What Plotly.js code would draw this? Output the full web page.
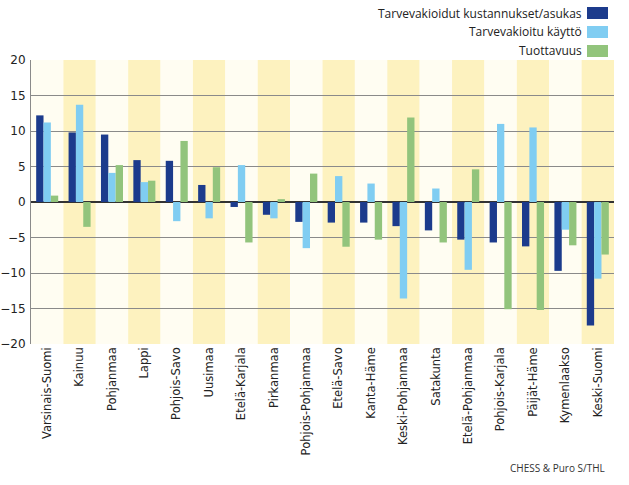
<!DOCTYPE html>
<html>
<head>
<meta charset="utf-8">
<script src="https://cdn.plot.ly/plotly-3.0.1.min.js"></script>
<style>html,body{margin:0;padding:0;background:#fff;}#chart{width:629px;height:485px;}</style>
</head>
<body>
<div id="chart"></div>
<script>
const regions = ["Varsinais-Suomi","Kainuu","Pohjanmaa","Lappi","Pohjois-Savo","Uusimaa","Etelä-Karjala","Pirkanmaa","Pohjois-Pohjanmaa","Etelä-Savo","Kanta-Häme","Keski-Pohjanmaa","Satakunta","Etelä-Pohjanmaa","Pohjois-Karjala","Päijät-Häme","Kymenlaakso","Keski-Suomi"];
const seriesNames = ["Tarvevakioidut kustannukset/asukas","Tarvevakioitu käyttö","Tuottavuus"];
const kustannukset = [12.2, 9.8, 9.5, 5.9, 5.8, 2.4, -0.7, -1.8, -2.8, -2.9, -2.9, -3.4, -4.0, -5.3, -5.7, -6.25, -9.7, -17.4];
const kaytto = [11.2, 13.7, 4.1, 2.8, -2.7, -2.3, 5.2, -2.3, -6.5, 3.65, 2.6, -13.6, 1.9, -9.55, 11.0, 10.5, -3.9, -10.8];
const tuottavuus = [0.9, -3.5, 5.2, 3.0, 8.6, 4.9, -5.7, 0.4, 4.0, -6.3, -5.3, 11.9, -5.7, 4.6, -15.1, -15.2, -6.1, -7.4];
const yTicks = [-20, -15, -10, -5, 0, 5, 10, 15, 20];
const yTickText = ["\u221220","\u221215","\u221210","\u22125","0","5","10","15","20"];

const colors = ["#1c3b8c", "#80cdf2", "#92c47c"];
const values = [kustannukset, kaytto, tuottavuus];

const traces = values.map((v, i) => ({
  type: "bar", x: regions, y: v, name: seriesNames[i],
  marker: {color: colors[i], line: {width: 0}}, showlegend: false,
  hoverinfo: "skip"
}));

// plot area in pixels
const L = 31, R = 614, T = 60, B = 344;
const px = x => (x - L) / (R - L);
const py = y => (B - y) / (B - T);

const shapes = [];
regions.forEach((r, i) => {
  shapes.push({type: "rect", xref: "x", yref: "y", x0: i - 0.5, x1: i + 0.5, y0: -20, y1: 20,
    fillcolor: i % 2 === 1 ? "#fdf2bf" : "#fffdf2", line: {width: 0}, layer: "below"});
});
const annotations = [];
seriesNames.forEach((n, i) => {
  const yc = 13 + 19 * i;
  shapes.push({type: "rect", xref: "paper", yref: "paper", x0: px(587), x1: px(608),
    y0: py(yc + 6), y1: py(yc - 6), fillcolor: colors[i], line: {width: 0}});
  annotations.push({xref: "paper", yref: "paper", x: px(584), y: py(yc), xanchor: "right", yanchor: "middle",
    text: n, showarrow: false, font: {family: "Open Sans", size: 12, color: "#222"}});
});
annotations.push({xref: "paper", yref: "paper", x: px(607), y: py(468), xanchor: "right", yanchor: "middle",
  text: "CHESS & Puro S/THL", showarrow: false, font: {family: "Open Sans", size: 10, color: "#333"}});

const layout = {
  width: 629, height: 485,
  margin: {l: L, r: 629 - R, t: T, b: 485 - B, pad: 0},
  paper_bgcolor: "#ffffff", plot_bgcolor: "#ffffff",
  barmode: "group", bargap: 0.32, bargroupgap: 0,
  showlegend: false,
  font: {family: "DejaVu Sans", color: "#222"},
  xaxis: {type: "category", tickangle: -90, ticks: "", showgrid: false, zeroline: false,
    showline: false, tickfont: {family: "DejaVu Sans", size: 11.5, color: "#222"}, range: [-0.5, 17.5]},
  yaxis: {range: [-20, 20], tickvals: yTicks, ticktext: yTickText, ticks: "", showgrid: true,
    gridcolor: "#8a8a8a", gridwidth: 1, zeroline: true, zerolinecolor: "#333", zerolinewidth: 2,
    showline: true, linecolor: "#8a8a8a", linewidth: 1,
    tickfont: {family: "DejaVu Sans", size: 12, color: "#222"}, ticklabelstandoff: 2},
  shapes: shapes,
  annotations: annotations
};

Plotly.newPlot("chart", traces, layout, {displayModeBar: false, staticPlot: true});
</script>
</body>
</html>
